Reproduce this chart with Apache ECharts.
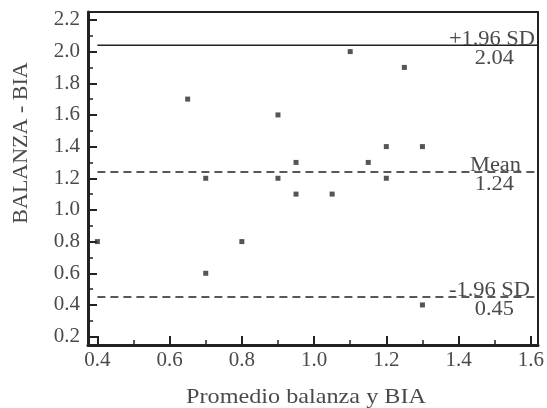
<!DOCTYPE html>
<html lang="es">
<head>
    <meta charset="UTF-8">
    <title>Bland-Altman balanza vs BIA</title>
    <style>
        html, body { margin: 0; padding: 0; background: #fff; }
        #main { width: 547px; height: 408px; }
    </style>
</head>
<body>
<div id="main"></div>

<script src="https://cdn.jsdelivr.net/npm/echarts@6/dist/echarts.min.js"></script>
<script>
    // datos del grafico
    let promedio = [0.4, 0.65, 0.7, 0.7, 0.8, 0.9, 0.9, 0.95, 0.95, 1.05, 1.1, 1.15, 1.2, 1.2, 1.25, 1.3, 1.3];
    let diferencia = [0.8, 1.7, 1.2, 0.6, 0.8, 1.6, 1.2, 1.3, 1.1, 1.1, 2.0, 1.3, 1.4, 1.2, 1.9, 1.4, 0.4];

    let xTicks = [0.4, 0.6, 0.8, 1.0, 1.2, 1.4, 1.6];
    let xMinor = [0.5, 0.7, 0.9, 1.1, 1.3, 1.5];
    let yTicks = [0.2, 0.4, 0.6, 0.8, 1.0, 1.2, 1.4, 1.6, 1.8, 2.0, 2.2];
    let yMinor = [0.3, 0.5, 0.7, 0.9, 1.1, 1.3, 1.5, 1.7, 1.9, 2.1];

    let limiteNombres = ['+1.96 SD', 'Mean', '-1.96 SD'];
    let limiteValores = [2.04, 1.24, 0.45];
    let limiteTipos = ['solid', [8, 5], [8, 5]];

    let xMin = 0.374, xMax = 1.62, yMin = 0.147, yMax = 2.25;
    let lineaInicio = 0.4;

    const fuente = 'Liberation Serif';
    const gris = '#4a4a4a';

    let chart = echarts.init(document.getElementById('main'));

    function eje(extra) {
        return Object.assign({
            type: 'value',
            splitLine: {show: false},
            axisLabel: {show: false},
            axisTick: {show: false},
            axisLine: {show: false}
        }, extra);
    }

    let puntos = promedio.map((x, i) => [x, diferencia[i]]);

    let series = [{
        type: 'scatter',
        data: puntos,
        symbol: 'rect',
        symbolSize: 5,
        itemStyle: {color: '#2a2a2a'},
        z: 5
    }];
    limiteValores.forEach((v, i) => {
        series.push({
            type: 'line',
            data: [[lineaInicio, v], [xMax, v]],
            symbol: 'none',
            silent: true,
            lineStyle: {color: '#222', width: 1.5, type: limiteTipos[i]}
        });
    });

    let option = {
        animation: false,
        grid: {left: 88, top: 12, right: 9, bottom: 63},
        xAxis: [
            eje({
                min: xMin, max: xMax,
                axisLine: {show: true, onZero: false, lineStyle: {color: '#222', width: 3}},
                axisTick: {show: true, inside: true, length: 9, customValues: xTicks, lineStyle: {color: '#222', width: 2}},
                axisLabel: {
                    show: true, customValues: xTicks, margin: 5,
                    fontFamily: fuente, fontSize: 21, color: gris,
                    formatter: v => v.toFixed(1)
                }
            }),
            eje({
                min: xMin, max: xMax, position: 'bottom',
                axisTick: {show: true, inside: true, length: 5, customValues: xMinor, lineStyle: {color: '#222', width: 1.5}}
            }),
            eje({
                min: xMin, max: xMax, position: 'top',
                axisLine: {show: true, onZero: false, lineStyle: {color: '#222', width: 2}}
            })
        ],
        yAxis: [
            eje({
                min: yMin, max: yMax,
                axisLine: {show: true, onZero: false, lineStyle: {color: '#222', width: 3}},
                axisTick: {show: true, inside: true, length: 9, customValues: yTicks, lineStyle: {color: '#222', width: 2}},
                axisLabel: {
                    show: true, customValues: yTicks, margin: 8,
                    fontFamily: fuente, fontSize: 21, color: gris,
                    formatter: v => v.toFixed(1)
                }
            }),
            eje({
                min: yMin, max: yMax, position: 'left',
                axisTick: {show: true, inside: true, length: 5, customValues: yMinor, lineStyle: {color: '#222', width: 1.5}}
            }),
            eje({
                min: yMin, max: yMax, position: 'right',
                axisLine: {show: true, onZero: false, lineStyle: {color: '#222', width: 2}}
            })
        ],
        series: series
    };
    chart.setOption(option);

    // textos de los limites, colocados con la escala del grafico
    let textos = [];
    let derechaNombre = [535, 521, 530];
    limiteValores.forEach((v, i) => {
        let p = chart.convertToPixel({gridIndex: 0}, [xMax, v]);
        textos.push({
            type: 'text', z: 10,
            x: derechaNombre[i], y: p[1] + 4, scaleX: 1.12,
            style: {text: limiteNombres[i], fontFamily: fuente, fontSize: 20, fill: gris, align: 'right', verticalAlign: 'bottom'}
        });
        textos.push({
            type: 'text', z: 10,
            x: 514, y: p[1] + 3, scaleX: 1.12,
            style: {text: v.toFixed(2), fontFamily: fuente, fontSize: 20, fill: gris, align: 'right', verticalAlign: 'top'}
        });
    });
    textos.push({
        type: 'text',
        x: 21, y: 143, rotation: Math.PI / 2,
        style: {text: 'BALANZA - BIA', fontFamily: fuente, fontSize: 22, fill: gris, align: 'center', verticalAlign: 'middle'}
    });
    textos.push({
        type: 'text',
        x: 306, y: 397, scaleX: 1.1,
        style: {text: 'Promedio balanza y BIA', fontFamily: fuente, fontSize: 22, fill: gris, align: 'center', verticalAlign: 'middle'}
    });
    chart.setOption({graphic: textos});
</script>
</body>
</html>
